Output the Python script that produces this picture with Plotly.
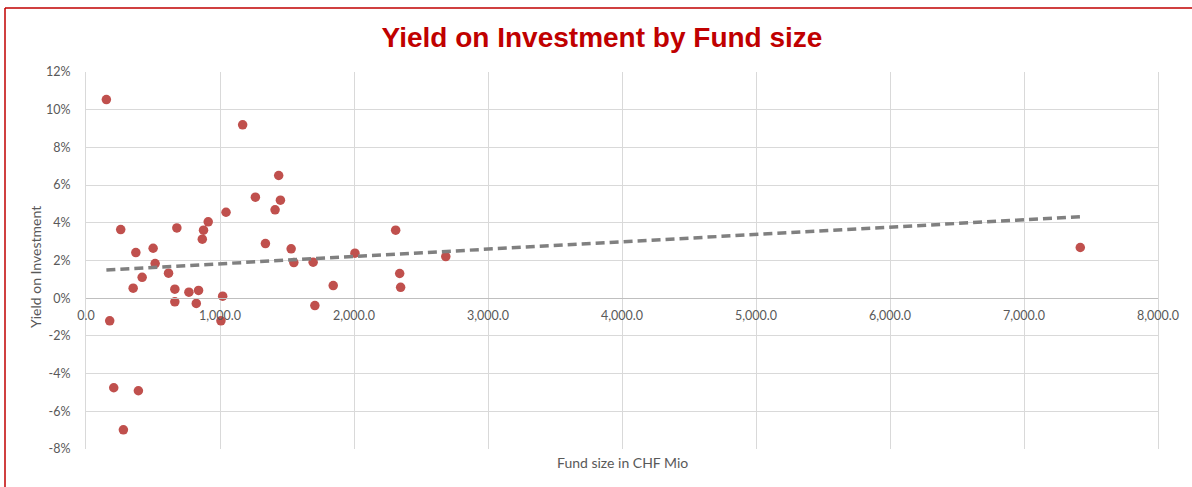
import numpy as np
import plotly.graph_objects as go

# Fund size (CHF Mio) and yield on investment (%)
fund_size = [152, 1169, 1438, 1264, 1451, 1411, 1045, 259, 678, 912,
             877, 868, 372, 501, 1339, 1531, 516, 616, 419, 1551,
             1695, 2007, 352, 663, 768, 840, 1020, 1845, 663, 823,
             1708, 177, 1007, 207, 391, 279, 2311, 2341, 2348, 2685,
             7420]
yield_pct = [10.54, 9.20, 6.51, 5.36, 5.20, 4.69, 4.56, 3.64, 3.73, 4.05,
             3.61, 3.13, 2.42, 2.65, 2.90, 2.62, 1.84, 1.33, 1.11, 1.89,
             1.91, 2.39, 0.53, 0.48, 0.32, 0.41, 0.11, 0.67, -0.19, -0.28,
             -0.39, -1.20, -1.20, -4.75, -4.91, -6.98, 3.61, 1.31, 0.58, 2.21,
             2.69]

x_ticks = [0, 1000, 2000, 3000, 4000, 5000, 6000, 7000, 8000]
y_ticks = [-8, -6, -4, -2, 0, 2, 4, 6, 8, 10, 12]
y_tick_labels = ["-8%", "-6%", "-4%", "-2%", "0%", "2%", "4%", "6%", "8%", "10%", "12%"]

# linear trendline from data
xa = np.array(fund_size, dtype=float)
ya = np.array(yield_pct, dtype=float)
slope, intercept = np.polyfit(xa, ya, 1)
tx = np.array([xa.min(), xa.max()])
ty = slope * tx + intercept

W, H = 1192, 487
ml, mr, mt, mb = 86, 34, 72, 38
pw = W - ml - mr
ph = H - mt - mb

fig = go.Figure()
fig.add_trace(go.Scatter(x=fund_size, y=yield_pct, mode="markers",
                         marker=dict(color="#C0504D", size=9.5, line=dict(width=0)),
                         showlegend=False, hoverinfo="x+y"))
fig.add_trace(go.Scatter(x=tx, y=ty, mode="lines",
                         line=dict(color="#808080", width=3.5, dash="9px,5px"),
                         showlegend=False, hoverinfo="skip"))

tick_font = dict(family="Lato, Liberation Sans, sans-serif", size=12.5, color="#595959")
title_font = dict(family="Lato, Liberation Sans, sans-serif", size=14, color="#595959")

fig.update_layout(
    width=W, height=H,
    margin=dict(l=ml, r=mr, t=mt, b=mb),
    paper_bgcolor="white", plot_bgcolor="white",
    title=dict(text="<b>Yield on Investment by Fund size</b>",
               font=dict(family="Liberation Sans, Arial, sans-serif", size=28, color="#C00000"),
               x=602 / W, xanchor="center", y=1 - 37 / H, yanchor="middle"),
    xaxis=dict(range=[0, 8000], tickvals=x_ticks, tickformat=",.1f",
               showgrid=True, gridcolor="#D9D9D9", gridwidth=1,
               zeroline=False, showline=True, linecolor="#BFBFBF", linewidth=1,
               anchor="free", position=0.4, ticks="", tickfont=tick_font,
               ticklabelstandoff=6, domain=[0, 1]),
    yaxis=dict(range=[-8, 12], tickvals=y_ticks, ticktext=y_tick_labels,
               showgrid=True, gridcolor="#D9D9D9", gridwidth=1,
               zeroline=False, showline=True, linecolor="#D9D9D9", linewidth=1,
               mirror=True, ticks="", tickfont=tick_font, ticklabelstandoff=12,
               domain=[0, 1]),
    shapes=[
        dict(type="line", xref="paper", yref="paper",
             x0=(5 - ml) / pw, x1=(W + 10 - ml) / pw,
             y0=1 + (mt - 8) / ph, y1=1 + (mt - 8) / ph,
             line=dict(color="#C00000", width=1.5)),
        dict(type="line", xref="paper", yref="paper",
             x0=(5 - ml) / pw, x1=(5 - ml) / pw,
             y0=1 + (mt - 8) / ph, y1=-(mb + 10) / ph,
             line=dict(color="#C00000", width=1.5)),
    ],
    annotations=[
        dict(text="Yield on Investment", xref="paper", yref="paper",
             x=(35 - ml) / pw, y=(H - mb - 267) / ph, textangle=-90,
             showarrow=False, xanchor="center", yanchor="middle",
             font=title_font),
        dict(text="Fund size in CHF Mio", xref="paper", yref="paper",
             x=(622 - ml) / pw, y=-(462 - (H - mb)) / ph,
             showarrow=False, xanchor="center", yanchor="middle",
             font=title_font),
    ],
)

fig.write_html("out.html", config={"displayModeBar": False},
               post_script="document.body.style.margin='0';")
